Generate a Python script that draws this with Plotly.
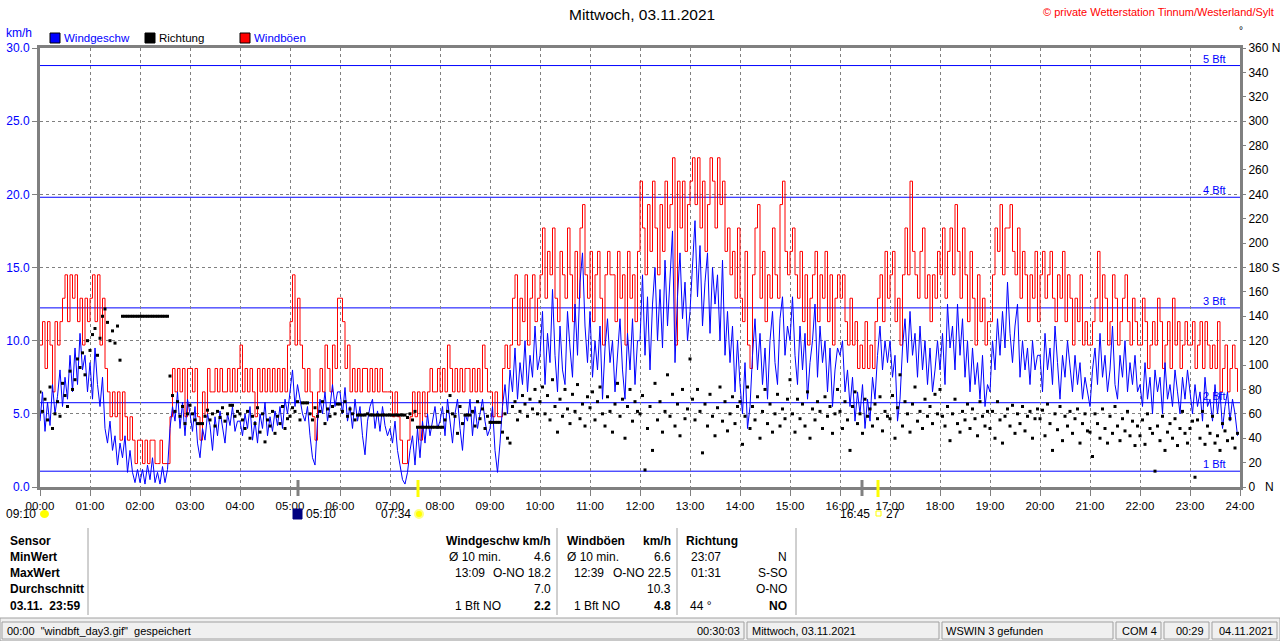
import plotly.graph_objects as go
import numpy as np

# 3-minute samples, one row per hour (00:00 ... 23:57)
speed = [
    4.5, 6.5, 3.8, 5.8, 4.2, 7.0, 5.0, 6.2, 8.0, 5.5, 7.5, 6.0, 9.0, 6.5, 9.5, 7.0, 10.5, 8.0, 9.0, 6.5,
    8.5, 6.0, 9.5, 7.0, 5.5, 7.5, 4.0, 3.0, 4.5, 2.5, 3.5, 1.5, 3.0, 2.0, 3.5, 1.0, 2.5, 1.0, 0.3, 1.2,
    0.3, 1.2, 0.2, 1.5, 0.5, 2.0, 0.3, 1.0, 0.2, 1.4, 0.3, 1.2, 4.0, 5.5, 4.5, 6.5, 4.0, 5.8, 3.5, 6.0,
    5.0, 3.8, 5.5, 3.0, 2.0, 4.0, 3.2, 5.0, 4.2, 2.5, 4.8, 3.5, 5.2, 4.0, 3.0, 5.0, 4.2, 5.5, 3.8, 4.5,
    4.5, 3.5, 5.0, 4.0, 5.5, 3.2, 4.5, 3.0, 5.0, 4.0, 5.8, 3.5, 4.8, 3.8, 5.2, 4.2, 5.5, 4.0, 6.0, 5.0,
    6.5, 8.0, 5.5, 7.0, 6.0, 5.0, 4.5, 5.5, 3.5, 2.0, 1.5, 4.5, 6.0, 5.0, 6.5, 4.5, 5.5, 7.0, 5.5, 6.5,
    6.5, 5.0, 6.8, 4.5, 5.5, 4.0, 6.0, 4.5, 5.5, 3.5, 2.2, 4.5, 5.5, 6.0, 4.0, 5.2, 3.8, 5.5, 4.2, 3.5,
    4.0, 3.0, 4.5, 2.5, 1.5, 0.5, 0.2, 1.0, 2.5, 3.5, 1.5, 4.0, 2.0, 4.5, 3.0, 5.0, 3.5, 4.5, 5.5, 4.0,
    4.5, 5.5, 3.5, 6.0, 4.5, 3.0, 5.0, 6.0, 4.0, 2.5, 5.0, 4.5, 6.0, 3.5, 5.5, 4.0, 5.0, 6.0, 4.5, 3.5,
    4.0, 5.5, 2.5, 1.0, 3.0, 5.5, 7.0, 5.0, 8.0, 6.5, 9.5, 6.0, 8.5, 7.0, 10.0, 6.5, 9.0, 7.5, 11.0, 8.0,
    9.0, 12.0, 7.0, 10.5, 8.5, 13.5, 9.0, 6.5, 11.0, 8.0, 7.0, 12.0, 9.5, 7.5, 12.5, 9.0, 14.0, 16.0, 11.0, 8.5,
    12.0, 7.5, 10.0, 8.0, 11.0, 6.0, 9.5, 11.5, 8.5, 10.0, 6.5, 9.0, 11.5, 8.0, 6.0, 10.5, 8.0, 11.5, 7.0, 10.0,
    10.0, 14.5, 9.0, 13.0, 8.0, 12.5, 15.0, 10.0, 13.5, 9.5, 15.5, 11.0, 14.0, 17.5, 8.5, 13.0, 16.0, 11.5, 14.0, 10.0,
    12.0, 15.5, 18.2, 13.0, 16.5, 11.0, 14.0, 16.0, 10.5, 15.0, 12.5, 14.5, 10.0, 15.5, 9.0, 12.0, 8.5, 11.0, 6.5, 10.0,
    7.0, 5.0, 8.5, 4.0, 5.5, 9.0, 11.5, 8.0, 10.5, 7.0, 9.5, 6.0, 10.0, 12.0, 8.5, 7.0, 11.5, 13.0, 9.0, 11.0,
    10.0, 13.0, 9.0, 7.0, 11.0, 8.0, 10.5, 6.0, 8.5, 10.0, 12.5, 7.5, 11.0, 8.5, 10.0, 6.5, 9.5, 5.5, 8.0, 9.5,
    9.0, 10.0, 6.5, 8.0, 5.5, 7.5, 4.5, 6.5, 5.0, 7.0, 4.0, 6.0, 4.5, 7.5, 6.0, 9.0, 11.0, 8.0, 10.0, 8.5,
    10.0, 7.5, 9.0, 4.5, 6.0, 9.5, 11.5, 8.5, 12.0, 9.0, 10.5, 7.5, 11.0, 8.0, 10.0, 7.0, 9.5, 6.5, 8.0, 10.0,
    8.0, 10.5, 7.0, 12.5, 9.5, 11.0, 8.0, 12.5, 9.0, 11.5, 7.5, 10.0, 6.5, 9.5, 7.0, 8.5, 6.0, 9.0, 5.5, 7.0,
    6.5, 10.0, 8.0, 11.5, 9.0, 12.0, 9.5, 14.0, 10.5, 8.5, 11.0, 12.5, 7.5, 10.0, 8.0, 9.5, 7.0, 10.0, 8.0, 9.0,
    9.0, 6.5, 10.5, 8.0, 9.5, 7.0, 11.0, 8.5, 6.0, 9.0, 7.5, 10.0, 8.0, 6.5, 9.0, 7.0, 8.5, 6.0, 7.5, 6.5,
    5.5, 8.0, 9.5, 7.0, 10.5, 7.5, 9.0, 6.5, 8.0, 11.0, 7.0, 6.0, 9.0, 7.5, 10.0, 6.5, 8.5, 7.0, 9.0, 6.5,
    7.0, 5.5, 8.5, 6.0, 7.5, 5.0, 8.0, 6.5, 7.5, 5.0, 8.5, 6.0, 7.0, 5.5, 8.0, 6.5, 5.0, 7.5, 6.0, 8.0,
    6.5, 5.0, 7.0, 5.5, 6.5, 4.5, 7.5, 5.5, 6.0, 4.5, 7.0, 5.0, 6.5, 4.0, 5.5, 6.5, 4.5, 6.0, 5.0, 3.5,
]

gusts = [
    9.7, 11.3, 8.1, 11.3, 9.7, 6.5, 11.3, 9.7, 11.3, 12.9, 14.5, 11.3, 14.5, 12.9, 14.5, 11.3, 12.9, 9.7, 12.9, 11.3,
    12.9, 14.5, 11.3, 14.5, 9.7, 12.9, 8.1, 6.5, 4.8, 6.5, 4.8, 6.5, 3.2, 6.5, 4.8, 3.2, 4.8, 3.2, 1.6, 3.2,
    3.2, 1.6, 3.2, 1.6, 3.2, 3.2, 1.6, 1.6, 3.2, 1.6, 1.6, 1.6, 4.8, 8.1, 6.5, 8.1, 6.5, 8.1, 4.8, 8.1,
    8.1, 6.5, 8.1, 4.8, 3.2, 6.5, 4.8, 8.1, 6.5, 6.5, 8.1, 6.5, 8.1, 6.5, 6.5, 8.1, 6.5, 8.1, 6.5, 8.1,
    9.7, 6.5, 8.1, 6.5, 8.1, 6.5, 4.8, 8.1, 6.5, 8.1, 6.5, 8.1, 6.5, 8.1, 6.5, 8.1, 6.5, 8.1, 6.5, 9.7,
    11.3, 14.5, 9.7, 12.9, 9.7, 8.1, 6.5, 8.1, 6.5, 4.8, 3.2, 6.5, 8.1, 6.5, 9.7, 8.1, 6.5, 9.7, 8.1, 12.9,
    12.9, 11.3, 8.1, 9.7, 6.5, 8.1, 6.5, 8.1, 6.5, 8.1, 8.1, 6.5, 8.1, 6.5, 8.1, 6.5, 8.1, 6.5, 6.5, 6.5,
    6.5, 4.8, 6.5, 4.8, 3.2, 1.6, 1.6, 3.2, 4.8, 6.5, 4.8, 6.5, 3.2, 6.5, 4.8, 6.5, 8.1, 6.5, 6.5, 8.1,
    6.5, 8.1, 6.5, 9.7, 8.1, 6.5, 8.1, 6.5, 8.1, 6.5, 8.1, 8.1, 6.5, 8.1, 6.5, 8.1, 6.5, 9.7, 8.1, 6.5,
    6.5, 4.8, 6.5, 4.8, 4.8, 8.1, 9.7, 8.1, 9.7, 12.9, 14.5, 9.7, 12.9, 11.3, 14.5, 9.7, 12.9, 14.5, 11.3, 12.9,
    14.5, 17.7, 12.9, 16.1, 14.5, 17.7, 12.9, 11.3, 16.1, 14.5, 12.9, 17.7, 14.5, 11.3, 16.1, 12.9, 17.7, 19.3, 14.5, 12.9,
    16.1, 11.3, 14.5, 16.1, 12.9, 9.7, 14.5, 16.1, 14.5, 14.5, 11.3, 16.1, 12.9, 14.5, 9.7, 16.1, 12.9, 14.5, 11.3, 16.1,
    20.9, 17.7, 14.5, 19.3, 16.1, 20.9, 17.7, 14.5, 19.3, 16.1, 20.9, 17.7, 19.3, 22.5, 9.7, 20.9, 17.7, 20.9, 16.1, 19.3,
    20.9, 22.5, 19.3, 22.5, 17.7, 20.9, 16.1, 19.3, 22.5, 20.9, 17.7, 22.5, 19.3, 20.9, 16.1, 17.7, 14.5, 16.1, 12.9, 17.7,
    12.9, 11.3, 16.1, 9.7, 8.1, 14.5, 17.7, 19.3, 12.9, 16.1, 11.3, 14.5, 12.9, 17.7, 14.5, 12.9, 19.3, 20.9, 16.1, 14.5,
    16.1, 17.7, 14.5, 12.9, 16.1, 11.3, 14.5, 9.7, 12.9, 14.5, 16.1, 11.3, 14.5, 12.9, 16.1, 11.3, 14.5, 9.7, 12.9, 14.5,
    12.9, 14.5, 11.3, 9.7, 12.9, 9.7, 11.3, 8.1, 9.7, 8.1, 11.3, 8.1, 9.7, 8.1, 11.3, 12.9, 14.5, 11.3, 16.1, 12.9,
    14.5, 16.1, 11.3, 12.9, 9.7, 14.5, 17.7, 14.5, 20.9, 16.1, 14.5, 12.9, 16.1, 17.7, 12.9, 14.5, 11.3, 14.5, 12.9, 16.1,
    14.5, 17.7, 12.9, 16.1, 17.7, 14.5, 19.3, 16.1, 12.9, 17.7, 14.5, 11.3, 16.1, 12.9, 9.7, 14.5, 11.3, 12.9, 9.7, 11.3,
    11.3, 14.5, 17.7, 16.1, 19.3, 14.5, 17.7, 17.7, 19.3, 16.1, 14.5, 17.7, 12.9, 16.1, 14.5, 11.3, 14.5, 12.9, 16.1, 11.3,
    14.5, 16.1, 12.9, 14.5, 16.1, 12.9, 11.3, 14.5, 12.9, 16.1, 11.3, 14.5, 12.9, 9.7, 12.9, 11.3, 14.5, 9.7, 11.3, 9.7,
    9.7, 11.3, 12.9, 16.1, 11.3, 14.5, 12.9, 9.7, 11.3, 14.5, 12.9, 9.7, 11.3, 12.9, 14.5, 11.3, 9.7, 12.9, 11.3, 9.7,
    9.7, 12.9, 11.3, 8.1, 9.7, 11.3, 9.7, 12.9, 11.3, 8.1, 9.7, 11.3, 8.1, 12.9, 9.7, 11.3, 8.1, 9.7, 11.3, 9.7,
    9.7, 11.3, 8.1, 9.7, 11.3, 8.1, 11.3, 9.7, 8.1, 9.7, 8.1, 11.3, 6.5, 8.1, 9.7, 6.5, 8.1, 9.7, 8.1, 6.5,
]

direction = [
    78, 62, 72, 55, 82, 48, 60, 70, 58, 85, 75, 66, 95, 80, 88, 105, 98, 110, 92, 120,
    112, 125, 130, 108, 122, 140, 146, 135, 120, 128, 118, 132, 104, 140, 140, 140, 140, 140, 140, 140,
    140, 140, 140, 140, 140, 140, 140, 140, 140, 140, 140, 140, 91, 75, 62, 70, 58, 66, 52, 60,
    67, 60, 55, 52, 52, 52, 58, 63, 55, 60, 50, 62, 57, 65, 54, 60, 67, 67, 58, 62,
    60, 55, 48, 62, 40, 58, 52, 65, 45, 60, 37, 55, 50, 62, 44, 58, 52, 66, 48, 56,
    58, 65, 62, 70, 55, 69, 69, 69, 60, 55, 65, 58, 62, 70, 52, 64, 58, 66, 60, 68,
    68, 62, 70, 58, 64, 60, 55, 59, 59, 59, 59, 60, 59, 59, 59, 59, 59, 59, 59, 59,
    59, 59, 59, 59, 59, 59, 59, 57, 60, 55, 62, 49, 49, 49, 49, 49, 49, 49, 49, 49,
    49, 49, 55, 62, 75, 60, 58, 44, 66, 52, 59, 59, 59, 62, 50, 70, 56, 64, 48, 58,
    53, 53, 53, 53, 53, 45, 60, 40, 36, 66, 70, 55, 62, 75, 68, 58, 72, 64, 80, 60,
    70, 82, 60, 75, 55, 88, 66, 45, 72, 58, 80, 64, 52, 76, 62, 84, 56, 68, 50, 74,
    65, 78, 55, 70, 82, 60, 50, 74, 62, 45, 68, 85, 58, 72, 40, 66, 80, 54, 70, 62,
    60, 75, 14, 48, 66, 30, 85, 55, 70, 45, 62, 92, 58, 76, 50, 68, 42, 80, 56, 64,
    105, 72, 55, 80, 62, 28, 68, 50, 76, 58, 42, 65, 82, 54, 70, 46, 60, 74, 52, 66,
    70, 35, 58, 82, 48, 66, 55, 74, 40, 62, 80, 52, 68, 45, 60, 76, 50, 64, 56, 72,
    88, 60, 45, 72, 56, 68, 50, 78, 40, 64, 55, 70, 62, 48, 74, 58, 66, 44, 60, 80,
    62, 48, 70, 55, 30, 66, 78, 52, 60, 44, 72, 58, 64, 50, 68, 56, 74, 46, 62, 58,
    56, 75, 40, 65, 92, 50, 70, 60, 45, 68, 82, 54, 62, 48, 72, 58, 66, 52, 76, 60,
    80, 58, 50, 66, 38, 60, 72, 52, 45, 62, 55, 68, 48, 64, 56, 42, 70, 58, 50, 62,
    48, 62, 40, 70, 55, 36, 58, 64, 50, 67, 44, 60, 52, 66, 46, 58, 62, 40, 56, 64,
    56, 63, 42, 68, 52, 30, 60, 47, 66, 38, 58, 50, 62, 44, 56, 64, 36, 52, 60, 46,
    45, 25, 60, 52, 40, 64, 48, 36, 58, 44, 66, 50, 38, 56, 46, 62, 42, 54, 34, 50,
    42, 55, 35, 60, 48, 44, 13, 50, 38, 58, 30, 45, 52, 40, 56, 34, 48, 62, 44, 36,
    48, 54, 8, 55, 40, 62, 35, 50, 44, 58, 36, 42, 30, 52, 46, 38, 56, 40, 32, 44,
]

hour_labels = [f"{h:02d}:00" for h in range(25)]
dir_ticks = list(range(0, 361, 20))
dir_labels = [("0   N" if d == 0 else "180 S" if d == 180 else "360 N" if d == 360 else str(d)) for d in dir_ticks]
kmh_ticks = [0, 5, 10, 15, 20, 25, 30]

bft_levels = [1.08, 5.76, 12.24, 19.8, 28.8]
bft_names = ["1 Bft", "2 Bft", "3 Bft", "4 Bft", "5 Bft"]

t = np.arange(len(speed)) * 3 / 60.0

FONT = "Liberation Sans"
GRAY = "#808080"
BLUE = "#0000ff"


def px(x):
    return (x - 40) / 1200.0


def py(y):
    return (487 - y) / 439.0


def txt(text, x, y, anchor="left", color="black", size=12, bold=False):
    if bold:
        text = f"<b>{text}</b>"
    return dict(text=text, x=px(x), y=py(y), xref="paper", yref="paper",
                xanchor=anchor, yanchor="middle", showarrow=False,
                font=dict(family=FONT, size=size, color=color))


def rect(x0, y0, x1, y1, line=GRAY, fill=None, width=1):
    d = dict(type="rect", xref="paper", yref="paper",
             x0=px(x0), x1=px(x1), y0=py(y0), y1=py(y1),
             line=dict(color=line, width=width))
    if fill:
        d["fillcolor"] = fill
    return d


def vline(x, y0, y1, color=GRAY, width=1):
    return dict(type="line", xref="paper", yref="paper",
                x0=px(x), x1=px(x), y0=py(y0), y1=py(y1),
                line=dict(color=color, width=width))


data = [
    go.Scatter(x=t, y=gusts, mode="lines", line=dict(color="#ff0000", width=1, shape="hv"),
               name="Windböen"),
    go.Scatter(x=t, y=speed, mode="lines", line=dict(color=BLUE, width=1),
               name="Windgeschw"),
    go.Scatter(x=t, y=direction, mode="markers", yaxis="y2",
               marker=dict(color="black", size=3, symbol="square", line=dict(width=0)),
               name="Richtung"),
]

shapes = []
for lvl in bft_levels:
    shapes.append(dict(type="line", xref="x", yref="y", x0=0, x1=24, y0=lvl, y1=lvl,
                       line=dict(color=BLUE, width=1), layer="below"))

# sunrise / moon markers on the time axis
shapes.append(vline(298, 480, 496, color=GRAY, width=3))
shapes.append(vline(418, 480, 497, color="#ffff00", width=3))
shapes.append(vline(862, 480, 496, color=GRAY, width=3))
shapes.append(vline(878, 480, 497, color="#ffff00", width=3))
shapes.append(dict(type="circle", xref="paper", yref="paper", x0=px(40), x1=px(49),
                   y0=py(518), y1=py(510), fillcolor="#ffff00", line=dict(width=0)))
shapes.append(rect(293, 509, 302, 519, line="#000080", fill="#000080"))
shapes.append(dict(type="circle", xref="paper", yref="paper", x0=px(415), x1=px(423),
                   y0=py(518), y1=py(510), fillcolor="#ffff00", line=dict(color="#ffff80", width=2)))
shapes.append(rect(876, 511, 881, 516, line="#ffff00"))

# legend squares
shapes.append(rect(50, 33, 60, 43, line="black", fill=BLUE))
shapes.append(rect(145, 33, 155, 43, line="black", fill="black"))
shapes.append(rect(240, 33, 250, 43, line="black", fill="#ff0000"))

# table separators
for xs in [88, 557, 677, 796]:
    shapes.append(vline(xs, 528, 615, color="#a0a0a0"))

# status bar
shapes.append(rect(0, 618, 1280, 641, line="#a0a0a0", fill="#f0f0f0"))
for x0, x1 in [(2, 744), (747, 939), (942, 1113), (1116, 1161), (1164, 1209), (1212, 1277)]:
    shapes.append(rect(x0, 622, x1, 639, line="#a0a0a0", fill="#f0f0f0"))

annotations = [
    txt("Mittwoch, 03.11.2021", 642, 15, anchor="center", size=15.5),
    txt("© private Wetterstation Tinnum/Westerland/Sylt", 1276, 12, anchor="right", color="#ff0000", size=11),
    txt("km/h", 4, 33, color=BLUE),
    txt("Windgeschw", 62, 38, color=BLUE, size=11.5),
    txt("Richtung", 157, 38, size=11.5),
    txt("Windböen", 252, 38, color=BLUE, size=11.5),
    txt("°", 1241, 30, anchor="center", size=10),
    txt("09:10", 38, 514, anchor="right"),
    txt("05:10", 304, 514),
    txt("07:34", 413, 514, anchor="right"),
    txt("16:45", 872, 514, anchor="right"),
    txt("27", 884, 514),
    # table
    txt("Sensor", 8, 541, bold=True),
    txt("MinWert", 8, 557, bold=True),
    txt("MaxWert", 8, 573, bold=True),
    txt("Durchschnitt", 8, 589, bold=True),
    txt("03.11.  23:59", 8, 606, bold=True),
    txt("Windgeschw km/h", 553, 541, anchor="right", bold=True),
    txt("Ø 10 min.", 447, 557),
    txt("4.6", 553, 557, anchor="right"),
    txt("13:09", 453, 573),
    txt("O-NO 18.2", 553, 573, anchor="right"),
    txt("7.0", 553, 589, anchor="right"),
    txt("1 Bft NO", 453, 606),
    txt("2.2", 553, 606, anchor="right", bold=True),
    txt("Windböen", 565, 541, bold=True),
    txt("km/h", 673, 541, anchor="right", bold=True),
    txt("Ø 10 min.", 565, 557),
    txt("6.6", 673, 557, anchor="right"),
    txt("12:39", 572, 573),
    txt("O-NO 22.5", 673, 573, anchor="right"),
    txt("10.3", 673, 589, anchor="right"),
    txt("1 Bft NO", 572, 606),
    txt("4.8", 673, 606, anchor="right", bold=True),
    txt("Richtung", 684, 541, bold=True),
    txt("23:07", 689, 557),
    txt("N", 789, 557, anchor="right"),
    txt("01:31", 689, 573),
    txt("S-SO", 789, 573, anchor="right"),
    txt("O-NO", 789, 589, anchor="right"),
    txt("44 °", 688, 606),
    txt("NO", 789, 606, anchor="right", bold=True),
    # status bar
    txt('00:00  "windbft_day3.gif"  gespeichert', 5, 631, size=11),
    txt("00:30:03", 742, 631, anchor="right", size=11),
    txt("Mittwoch, 03.11.2021", 750, 631, size=11),
    txt("WSWIN 3 gefunden", 944, 631, size=11),
    txt("COM 4", 1120, 631, size=11),
    txt("00:29", 1174, 631, size=11),
    txt("04.11.2021", 1217, 631, size=11),
]
for lvl, name in zip(bft_levels, bft_names):
    annotations.append(dict(text=name, x=23.75, y=lvl, xref="x", yref="y",
                            xanchor="right", yanchor="bottom", showarrow=False, yshift=-1,
                            font=dict(family=FONT, size=11, color=BLUE)))

layout = dict(
    width=1280, height=641,
    margin=dict(l=40, r=40, t=48, b=154, autoexpand=False),
    paper_bgcolor="white", plot_bgcolor="white",
    showlegend=False,
    font=dict(family=FONT, size=12, color="black"),
    xaxis=dict(range=[0, 24], tickvals=list(range(25)), ticktext=hour_labels,
               showgrid=True, gridcolor=GRAY, griddash="3px,3px", gridwidth=1,
               showline=True, linecolor=GRAY, linewidth=3, mirror=True, automargin=False,
               ticks="outside", ticklen=6, tickcolor=GRAY, zeroline=False,
               tickfont=dict(family=FONT, size=11.5, color="black")),
    yaxis=dict(range=[0, 30], tickvals=kmh_ticks, ticktext=[f"{v:.1f}" for v in kmh_ticks],
               showgrid=True, gridcolor=GRAY, griddash="3px,3px", gridwidth=1,
               showline=True, linecolor=GRAY, linewidth=3, mirror=True, automargin=False,
               ticks="outside", ticklen=5, tickcolor=GRAY, zeroline=False,
               tickfont=dict(family=FONT, size=12, color=BLUE)),
    yaxis2=dict(range=[0, 360], tickvals=dir_ticks, ticktext=dir_labels,
                overlaying="y", side="right", showgrid=False, zeroline=False, automargin=False,
                showline=False, ticks="outside", ticklen=5, tickcolor=GRAY,
                tickfont=dict(family=FONT, size=12, color="black")),
    shapes=shapes,
    annotations=annotations,
)

fig = go.Figure(data, layout)
# page margin off so the 1280x641 figure sits at the window origin
fig.write_html("out.html", config={"displayModeBar": False},
               post_script="document.body.style.margin='0';")
